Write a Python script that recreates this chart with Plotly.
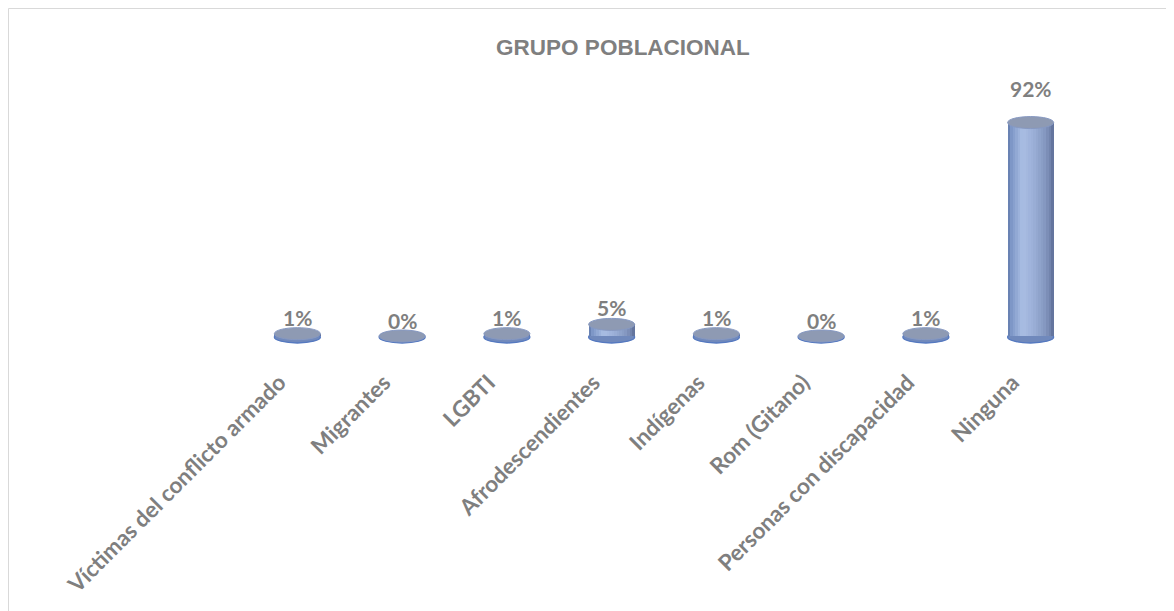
import plotly.graph_objects as go

categories = ["Víctimas del conflicto armado", "Migrantes", "LGBTI", "Afrodescendientes",
              "Indígenas", "Rom (Gitano)", "Personas con discapacidad", "Ninguna"]
values = [1, 0, 1, 5, 1, 0, 1, 92]
labels = ["1%", "0%", "1%", "5%", "1%", "0%", "1%", "92%"]

# the page body adds an 8px margin, so the figure is sized to fill the rest of the window
W, H = 1166, 603
BAR_W = 0.44
GRAY = "#7f7f7f"

# horizontal gradient of the cylinder body (style only)
anchors = [(0.0, (0x5e, 0x77, 0xa8)), (0.08, (0x7d, 0x96, 0xc7)), (0.32, (0xa9, 0xbd, 0xe3)),
           (0.55, (0x9c, 0xb0, 0xd8)), (0.8, (0x86, 0x99, 0xc2)), (0.93, (0x70, 0x82, 0xab)),
           (1.0, (0x5c, 0x6d, 0x96))]


def grad(t):
    for (t0, c0), (t1, c1) in zip(anchors[:-1], anchors[1:]):
        if t0 <= t <= t1:
            f = (t - t0) / (t1 - t0)
            return "rgb(%d,%d,%d)" % tuple(round(a + (b - a) * f) for a, b in zip(c0, c1))
    return "rgb(%d,%d,%d)" % anchors[-1][1]


# plot area geometry
l, r = 237, 91
base_px, top_px = 328, 96          # pixel rows of y=0 and y=100
extra = 12                         # room below the baseline for the cylinder bottoms
t = top_px
b = H - (base_px + extra)
scale = (base_px - top_px) / 100.0
ymin = -extra / scale

N = 18
fig = go.Figure()
for k in range(N):
    fig.add_trace(go.Bar(
        x=categories, y=values,
        width=BAR_W / N * 1.15, offset=-BAR_W / 2 + k * BAR_W / N,
        marker=dict(color=grad((k + 0.5) / N), line=dict(width=0)),
        hoverinfo="skip", showlegend=False,
    ))

shapes = []
for i, v in enumerate(values):
    # bottom of cylinder
    shapes.append(dict(type="circle", xref="x", yref="y", layer="below",
                       x0=i - BAR_W / 2, x1=i + BAR_W / 2,
                       ysizemode="pixel", yanchor=0, y0=-7, y1=5,
                       fillcolor="#7089bc", line=dict(color="#5579c0", width=1.3)))
    # top cap
    shapes.append(dict(type="circle", xref="x", yref="y", layer="above",
                       x0=i - BAR_W / 2, x1=i + BAR_W / 2,
                       ysizemode="pixel", yanchor=v, y0=-6, y1=6,
                       fillcolor="#8e9ab3", line=dict(color="#8799c2", width=1)))

# outer frame (only top and left edges are visible)
pw, ph = W - l - r, H - t - b
shapes.append(dict(type="rect", xref="paper", yref="paper",
                   x0=(0.5 - l) / pw, x1=(W + 20 - l) / pw,
                   y0=-(H + 20 - (H - b)) / ph, y1=(H - b - 0.5) / ph,
                   line=dict(color="#d9d9d9", width=1), fillcolor="rgba(0,0,0,0)", layer="below"))

annotations = []
for i, (v, s) in enumerate(zip(values, labels)):
    annotations.append(dict(x=i, y=v, xref="x", yref="y", text=s, showarrow=False,
                            yanchor="middle", yshift=16 + v * 0.2,
                            font=dict(family="Lato", size=21, color=GRAY, weight="bold")))

fig.update_layout(
    width=W, height=H,
    margin=dict(l=l, r=r, t=t, b=b, autoexpand=False),
    paper_bgcolor="white", plot_bgcolor="white",
    barmode="overlay", bargap=0,
    title=dict(text="GRUPO POBLACIONAL", x=615 / W, xanchor="center", xref="container",
               y=1 - 39 / H, yanchor="middle", yref="container",
               font=dict(family="Liberation Sans", size=22.5, color=GRAY, weight="bold")),
    xaxis=dict(range=[-0.5, len(categories) - 0.5], tickangle=-45, showgrid=False,
               showline=False, zeroline=False, ticks="",
               ticklabelstandoff=16, ticklabelshift=-18,
               tickfont=dict(family="Lato", size=22.5, color=GRAY, weight="bold")),
    yaxis=dict(range=[ymin, 100], visible=False, showgrid=False, zeroline=False),
    shapes=shapes, annotations=annotations,
)

fig.write_html("out.html")
